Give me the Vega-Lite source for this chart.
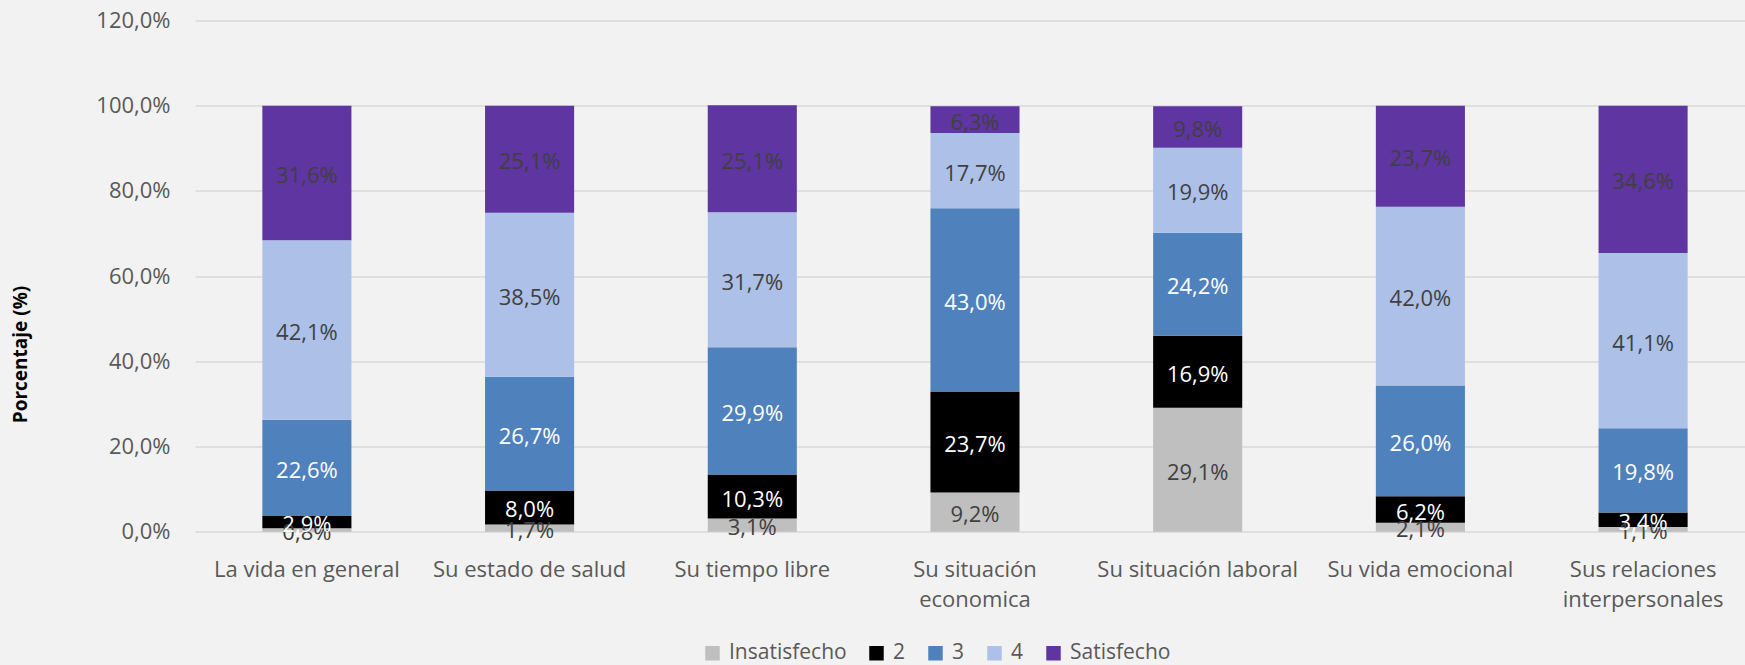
{
  "$schema": "https://vega.github.io/schema/vega-lite/v6.json",
  "autosize": "none",
  "width": 1550,
  "height": 511.2,
  "padding": {"left": 195, "top": 20.5, "right": 0, "bottom": 133.3},
  "background": "#F2F2F2",
  "config": {
    "font": "Open Sans",
    "view": {"stroke": null},
    "locale": {"number": {"decimal": ",", "thousands": ".", "grouping": [3], "currency": ["", " €"]}}
  },
  "data": {
    "values": [
      {"item": "La vida en general", "cat": "Insatisfecho", "rank": 1, "value": 0.008},
      {"item": "La vida en general", "cat": "2", "rank": 2, "value": 0.029},
      {"item": "La vida en general", "cat": "3", "rank": 3, "value": 0.226},
      {"item": "La vida en general", "cat": "4", "rank": 4, "value": 0.421},
      {"item": "La vida en general", "cat": "Satisfecho", "rank": 5, "value": 0.316},
      {"item": "Su estado de salud", "cat": "Insatisfecho", "rank": 1, "value": 0.017},
      {"item": "Su estado de salud", "cat": "2", "rank": 2, "value": 0.080},
      {"item": "Su estado de salud", "cat": "3", "rank": 3, "value": 0.267},
      {"item": "Su estado de salud", "cat": "4", "rank": 4, "value": 0.385},
      {"item": "Su estado de salud", "cat": "Satisfecho", "rank": 5, "value": 0.251},
      {"item": "Su tiempo libre", "cat": "Insatisfecho", "rank": 1, "value": 0.031},
      {"item": "Su tiempo libre", "cat": "2", "rank": 2, "value": 0.103},
      {"item": "Su tiempo libre", "cat": "3", "rank": 3, "value": 0.299},
      {"item": "Su tiempo libre", "cat": "4", "rank": 4, "value": 0.317},
      {"item": "Su tiempo libre", "cat": "Satisfecho", "rank": 5, "value": 0.251},
      {"item": "Su situación economica", "cat": "Insatisfecho", "rank": 1, "value": 0.092},
      {"item": "Su situación economica", "cat": "2", "rank": 2, "value": 0.237},
      {"item": "Su situación economica", "cat": "3", "rank": 3, "value": 0.430},
      {"item": "Su situación economica", "cat": "4", "rank": 4, "value": 0.177},
      {"item": "Su situación economica", "cat": "Satisfecho", "rank": 5, "value": 0.063},
      {"item": "Su situación laboral", "cat": "Insatisfecho", "rank": 1, "value": 0.291},
      {"item": "Su situación laboral", "cat": "2", "rank": 2, "value": 0.169},
      {"item": "Su situación laboral", "cat": "3", "rank": 3, "value": 0.242},
      {"item": "Su situación laboral", "cat": "4", "rank": 4, "value": 0.199},
      {"item": "Su situación laboral", "cat": "Satisfecho", "rank": 5, "value": 0.098},
      {"item": "Su vida emocional", "cat": "Insatisfecho", "rank": 1, "value": 0.021},
      {"item": "Su vida emocional", "cat": "2", "rank": 2, "value": 0.062},
      {"item": "Su vida emocional", "cat": "3", "rank": 3, "value": 0.260},
      {"item": "Su vida emocional", "cat": "4", "rank": 4, "value": 0.420},
      {"item": "Su vida emocional", "cat": "Satisfecho", "rank": 5, "value": 0.237},
      {"item": "Sus relaciones interpersonales", "cat": "Insatisfecho", "rank": 1, "value": 0.011},
      {"item": "Sus relaciones interpersonales", "cat": "2", "rank": 2, "value": 0.034},
      {"item": "Sus relaciones interpersonales", "cat": "3", "rank": 3, "value": 0.198},
      {"item": "Sus relaciones interpersonales", "cat": "4", "rank": 4, "value": 0.411},
      {"item": "Sus relaciones interpersonales", "cat": "Satisfecho", "rank": 5, "value": 0.346}
    ]
  },
  "transform": [
    {"stack": "value", "groupby": ["item"], "sort": [{"field": "rank", "order": "ascending"}], "as": ["v0", "v1"]},
    {"calculate": "(datum.v0 + datum.v1) / 2", "as": "mid"}
  ],
  "encoding": {
    "x": {
      "field": "item", "type": "nominal", "sort": null,
      "scale": {"paddingInner": 0.6, "paddingOuter": 0.28, "align": 0.54},
      "axis": {
        "title": null, "labelAngle": 0, "labelFontSize": 22, "labelColor": "#595959",
        "labelPadding": 28, "labelLineHeight": 30, "labelLimit": 0, "ticks": false, "domain": false, "grid": false,
        "labelExpr": "datum.label == 'Su situación economica' ? ['Su situación', 'economica'] : datum.label == 'Sus relaciones interpersonales' ? ['Sus relaciones', 'interpersonales'] : datum.label"
      }
    }
  },
  "layer": [
    {
      "mark": {"type": "bar"},
      "encoding": {
        "y": {
          "field": "v0", "type": "quantitative",
          "scale": {"domain": [0, 1.2], "nice": false},
          "axis": {
            "title": "Porcentaje (%)", "titleFontSize": 19, "titleFontWeight": "bold", "titleColor": "#000000",
            "titleAngle": 270, "titleX": -175, "titleY": 333.5, "titleAlign": "center", "titleBaseline": "middle",
            "values": [0, 0.2, 0.4, 0.6, 0.8, 1.0, 1.2], "format": ".1%",
            "labelFontSize": 22, "labelColor": "#595959", "labelPadding": 25,
            "domain": false, "ticks": false, "gridColor": "#D9D9D9", "gridWidth": 1.3
          }
        },
        "y2": {"field": "v1"},
        "color": {
          "field": "cat", "type": "nominal",
          "scale": {
            "domain": ["Insatisfecho", "2", "3", "4", "Satisfecho"],
            "range": ["#BFBFBF", "#000000", "#4F81BD", "#ADC0E8", "#5F35A1"]
          },
          "legend": {
            "title": null, "orient": "none", "direction": "horizontal",
            "legendX": 507, "legendY": 622,
            "symbolType": "square", "symbolSize": 210, "symbolStrokeWidth": 0,
            "labelFontSize": 21, "labelColor": "#595959", "labelOffset": 6, "columnPadding": 19
          }
        }
      }
    },
    {
      "mark": {"type": "text", "fontSize": 22, "baseline": "middle", "align": "center", "dy": 3},
      "encoding": {
        "y": {"field": "mid", "type": "quantitative"},
        "text": {"field": "value", "type": "quantitative", "format": ".1%"},
        "color": {
          "condition": {"test": "datum.cat === '2' || datum.cat === '3'", "value": "#FFFFFF"},
          "value": "#404040"
        }
      }
    }
  ]
}
